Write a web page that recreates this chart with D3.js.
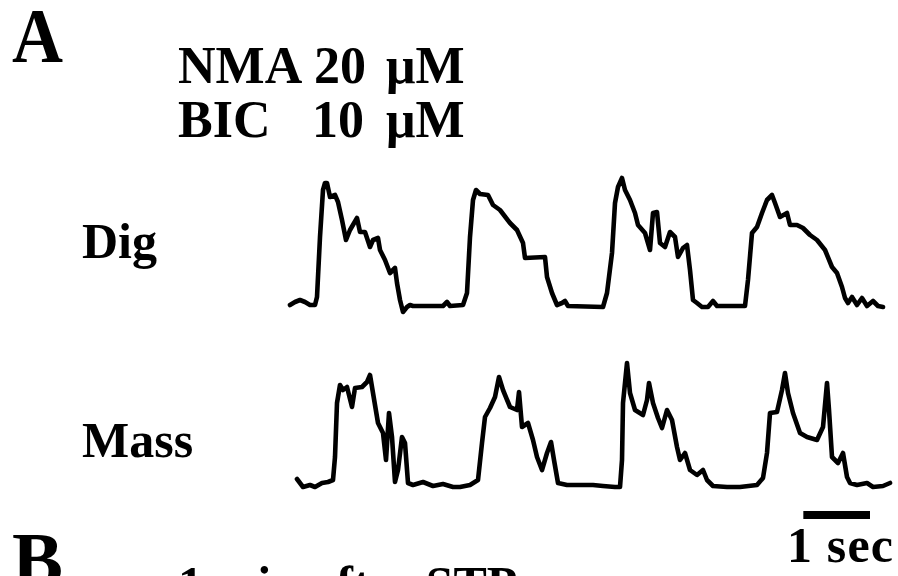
<!DOCTYPE html>
<html>
<head>
<meta charset="utf-8">
<script src="https://cdn.jsdelivr.net/npm/d3@7"></script>
<style>
  html, body { margin: 0; padding: 0; background: #fff; overflow: hidden; }
  text { font-family: "Liberation Serif", "Times New Roman", serif; font-weight: bold; fill: #000; }
</style>
</head>
<body>
<svg id="fig"></svg>
<script>
var W = 898, H = 576;

// recorded traces, [time in ms, amplitude in a.u.]
var digTrace = [
  [0,0.5],[75,2],[150,3],[225,2],[300,0.5],[375,0.5],[405,4.5],[450,34.5],[495,58],[525,61.5],
  [555,61.5],[600,54.5],[675,55.5],[720,52],[780,43],[840,33],[900,38],[1005,44],[1050,37],[1125,37],
  [1200,29.5],[1245,33],[1320,34],[1350,28],[1425,23],[1500,16.5],[1575,19],[1605,11.5],[1650,3],[1695,-3],
  [1755,-0.5],[1800,0.5],[1845,0],[2295,0],[2355,2],[2400,0],[2595,0.5],[2655,6.5],[2700,34.5],[2745,53],
  [2790,58],[2850,56],[2970,55.5],[3045,50.5],[3150,48],[3300,41.5],[3405,38],[3495,31.5],[3525,24],[3825,24.5],
  [3855,14.5],[3930,6.5],[4005,0.5],[4080,1.5],[4125,2.5],[4170,0],[4695,-0.5],[4755,6.5],[4830,26.5],[4875,51.5],
  [4920,59.5],[4980,64],[5025,58],[5100,53],[5175,46.5],[5220,40.5],[5325,36.5],[5400,28],[5445,46.5],[5505,47],
  [5550,31.5],[5625,29.5],[5700,37],[5775,34.5],[5820,24.5],[5895,29],[5955,30.5],[6000,18],[6045,3],[6105,1.5],
  [6180,-0.5],[6270,-0.5],[6345,2.5],[6405,0],[6825,0],[6870,13],[6930,36.5],[7005,39.5],[7080,46.5],[7155,53],
  [7230,55.5],[7275,51.5],[7350,44.5],[7455,46.5],[7500,40.5],[7605,40.5],[7695,39],[7800,35.5],[7905,33],[8025,28],
  [8130,19.5],[8205,16.5],[8280,9.5],[8325,4],[8370,1.5],[8430,4.5],[8505,0.5],[8580,4],[8655,0],[8745,2.5],
  [8820,0],[8895,-0.5]
];

var massTrace = [
  [105,3.5],[195,-0.5],[300,0.5],[375,-0.5],[480,1.5],[570,2],[645,3],[675,14.5],[705,41.5],[750,50.5],
  [795,48],[855,49.5],[930,39.5],[975,49],[1080,49.5],[1155,52],[1200,55.5],[1245,46.5],[1320,31.5],[1395,26.5],
  [1440,13],[1485,36.5],[1530,24.5],[1575,2],[1620,8],[1680,24.5],[1725,21.5],[1770,1.5],[1845,0.5],[1995,2],
  [2145,0],[2295,1],[2445,-0.5],[2550,-0.5],[2700,0.5],[2820,3],[2880,21.5],[2925,34.5],[3000,39],[3075,44.5],
  [3135,54.5],[3195,48],[3300,39.5],[3405,38],[3435,47],[3480,29.5],[3570,31.5],[3645,23],[3705,14.5],[3780,8],
  [3855,16.5],[3915,22],[3960,13],[4020,1.5],[4155,0.5],[4350,0.5],[4545,0.5],[4695,0],[4875,-0.5],[4950,-0.5],
  [4980,13],[4995,41.5],[5055,61.5],[5100,46.5],[5175,38],[5295,35.5],[5355,43],[5385,51.5],[5445,41.5],[5520,34],
  [5580,29],[5655,38],[5730,33],[5805,19.5],[5850,13],[5925,16.5],[6000,8],[6105,5.5],[6195,8],[6255,3],
  [6345,0],[6555,-0.5],[6750,-0.5],[7005,0.5],[7095,4],[7155,16.5],[7200,36.5],[7305,37],[7380,48],[7425,56.5],
  [7470,46.5],[7545,36.5],[7650,26.5],[7755,24.5],[7905,23],[7995,29.5],[8055,51.5],[8085,38],[8130,14.5],[8220,11.5],
  [8295,16.5],[8355,4.5],[8400,1.5],[8505,0.5],[8655,1.5],[8745,-0.5],[8895,0],[9000,1.5]
];

var traceNames = ["Dig", "Mass"];
var scaleBar = [7700, 8700];   // 1 sec
var scaleLabel = "1 sec";

var svg = d3.select("#fig").attr("width", W).attr("height", H);

var x = d3.scaleLinear().domain([0, 9000]).range([290, 890]);
var yDig = d3.scaleLinear().domain([0, 64]).range([306, 178]);
var yMass = d3.scaleLinear().domain([0, 64]).range([486, 358]);

function drawTrace(data, y) {
  var line = d3.line()
    .x(function (d) { return x(d[0]); })
    .y(function (d) { return y(d[1]); });
  svg.append("path")
    .datum(data)
    .attr("d", line)
    .attr("fill", "none")
    .attr("stroke", "#000")
    .attr("stroke-width", 4.6)
    .attr("stroke-linejoin", "round")
    .attr("stroke-linecap", "round");
}

drawTrace(digTrace, yDig);
drawTrace(massTrace, yMass);

// panel letters
svg.append("text").attr("x", 12).attr("y", 62).attr("font-size", 78)
  .attr("textLength", 51).attr("lengthAdjust", "spacingAndGlyphs").text("A");
svg.append("text").attr("x", 12).attr("y", 586).attr("font-size", 78)
  .attr("textLength", 51).attr("lengthAdjust", "spacingAndGlyphs").text("B");

// drug conditions
svg.append("text").attr("x", 178).attr("y", 83).attr("font-size", 52).text("NMA");
svg.append("text").attr("x", 314).attr("y", 83).attr("font-size", 52).text("20");
svg.append("text").attr("x", 386).attr("y", 83).attr("font-size", 52).text("\u03bcM");
svg.append("text").attr("x", 178).attr("y", 137).attr("font-size", 52).text("BIC");
svg.append("text").attr("x", 312).attr("y", 137).attr("font-size", 52).text("10");
svg.append("text").attr("x", 386).attr("y", 137).attr("font-size", 52).text("\u03bcM");

// trace labels
svg.append("text").attr("x", 82).attr("y", 258).attr("font-size", 50).text(traceNames[0]);
svg.append("text").attr("x", 82).attr("y", 457).attr("font-size", 50).text(traceNames[1]);

// scale bar
svg.append("rect")
  .attr("x", x(scaleBar[0]))
  .attr("y", 511)
  .attr("width", x(scaleBar[1]) - x(scaleBar[0]))
  .attr("height", 8)
  .attr("fill", "#000");
svg.append("text").attr("x", 787).attr("y", 562).attr("font-size", 50)
  .attr("textLength", 106).attr("lengthAdjust", "spacing").text(scaleLabel);

// panel B title (cut off by frame)
svg.append("text").attr("x", 178).attr("y", 601).attr("font-size", 50).text("1 min after STP");
</script>
</body>
</html>
